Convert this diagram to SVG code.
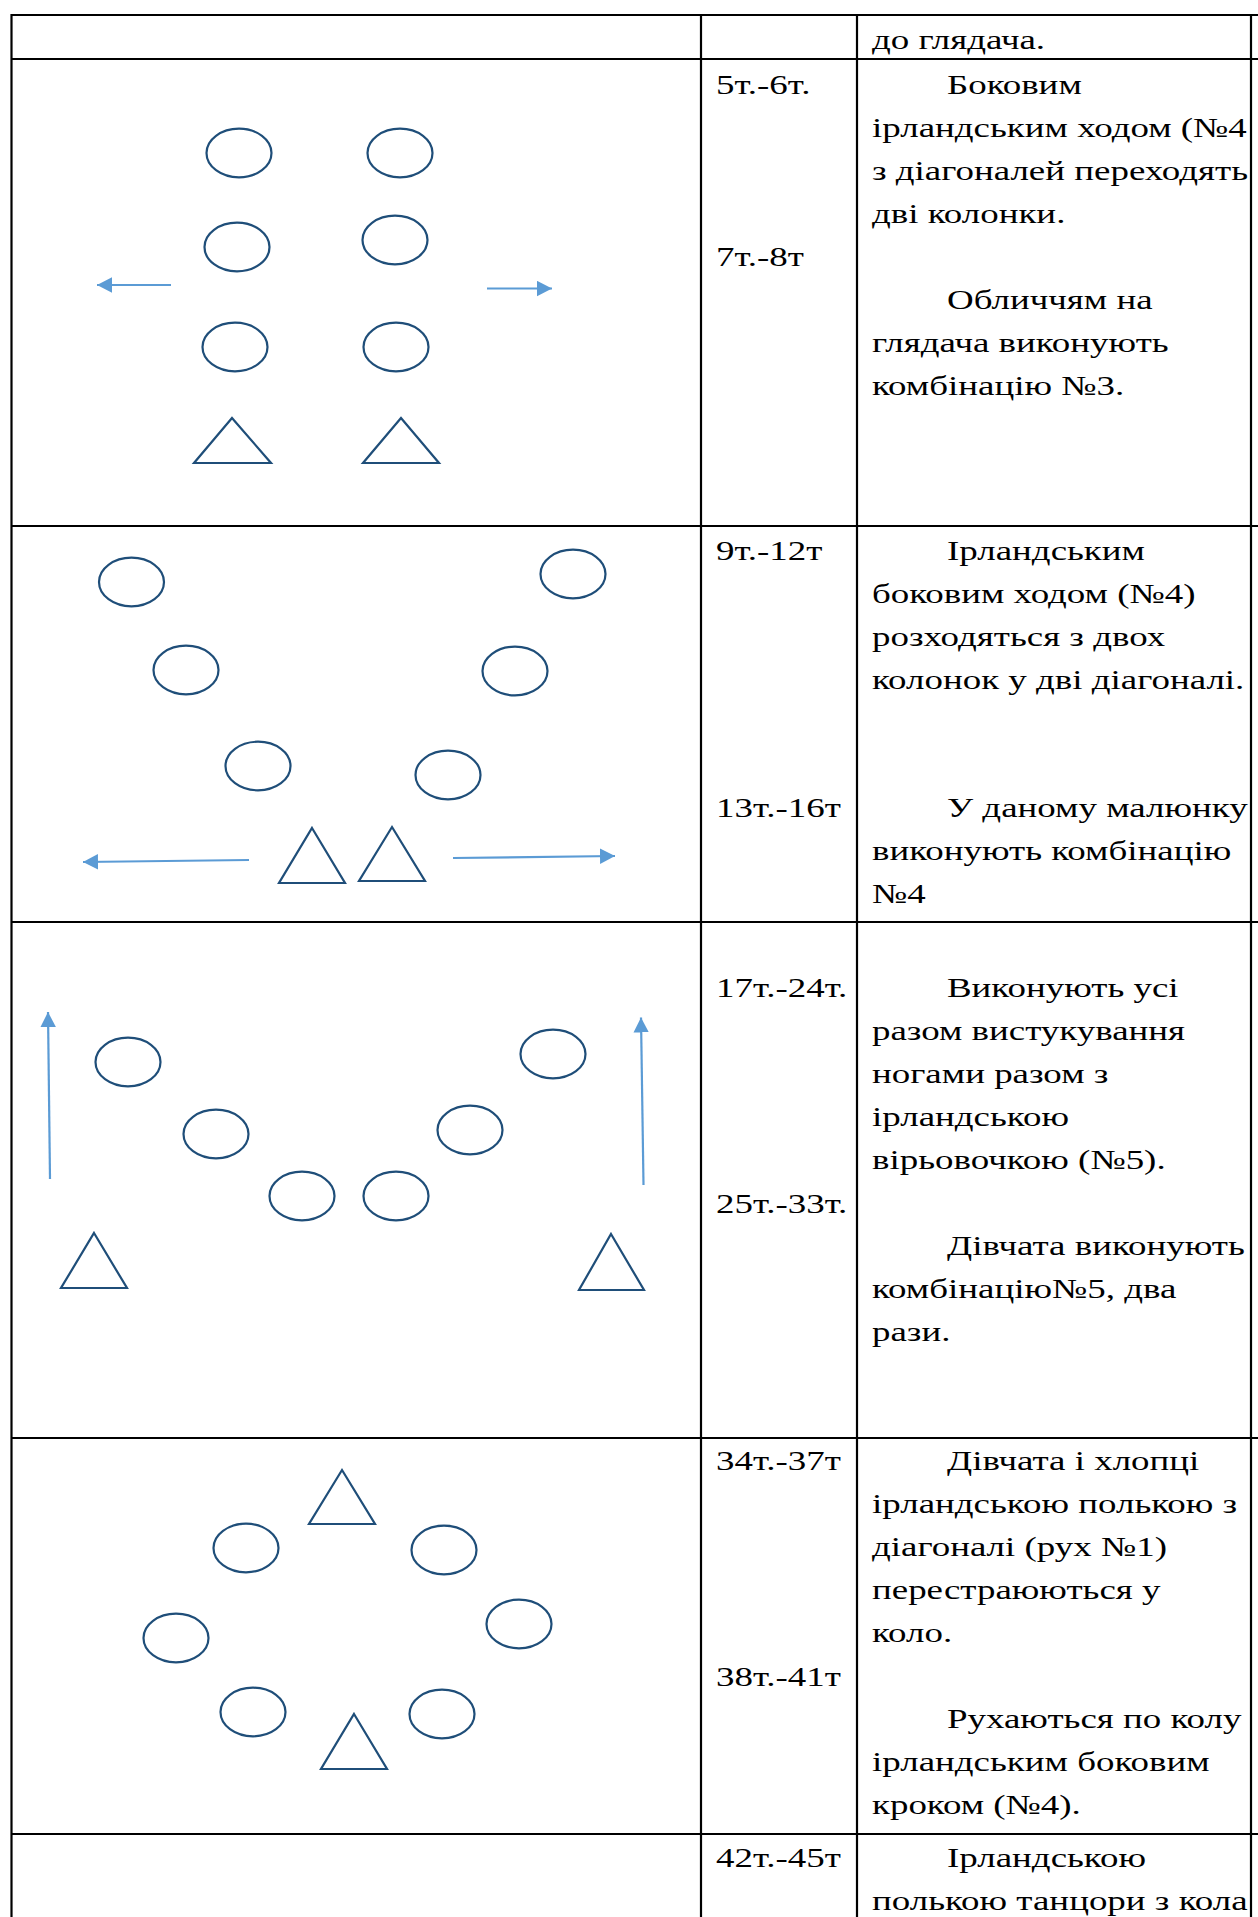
<svg xmlns="http://www.w3.org/2000/svg" width="1258" height="1917" viewBox="0 0 1258 1917">
<style>
.grid{stroke:#000;stroke-width:2.2;fill:none}
.d{fill:none;stroke:#1F4E79;stroke-width:2.2}
.a{fill:none;stroke:#5B9BD5;stroke-width:2.2}
.t{font-family:"Liberation Serif","Times New Roman",serif;font-size:28px;fill:#000}
</style>
<defs>
<marker id="ah" markerUnits="userSpaceOnUse" markerWidth="16" markerHeight="16" viewBox="0 0 16 16" refX="15" refY="8" orient="auto">
<path d="M0,0.3 L15,8 L0,15.7 z" fill="#5B9BD5"/>
</marker>
</defs>
<rect width="1258" height="1917" fill="#fff"/>
<g id="table" class="grid">
<line x1="11" y1="15" x2="1258" y2="15"/>
<line x1="11" y1="59" x2="1258" y2="59"/>
<line x1="11" y1="526" x2="1258" y2="526"/>
<line x1="11" y1="922" x2="1258" y2="922"/>
<line x1="11" y1="1438" x2="1258" y2="1438"/>
<line x1="11" y1="1834" x2="1258" y2="1834"/>
<line x1="11.5" y1="14" x2="11.5" y2="1917"/>
<line x1="701" y1="14" x2="701" y2="1917"/>
<line x1="857" y1="14" x2="857" y2="1917"/>
<line x1="1251" y1="14" x2="1251" y2="1917"/>
</g>
<g id="connectors">
<line class="a" x1="171" y1="285" x2="97" y2="285" marker-end="url(#ah)"/>
<line class="a" x1="487" y1="288.5" x2="552" y2="288.5" marker-end="url(#ah)"/>
<line class="a" x1="249" y1="860" x2="83" y2="862" marker-end="url(#ah)"/>
<line class="a" x1="453" y1="858" x2="615" y2="856" marker-end="url(#ah)"/>
<line class="a" x1="50" y1="1179" x2="48" y2="1012" marker-end="url(#ah)"/>
<line class="a" x1="643.5" y1="1185" x2="641" y2="1017.5" marker-end="url(#ah)"/>
</g>
<g id="fig1">
<g id="f1-c1"><ellipse class="d" cx="239" cy="153" rx="32.5" ry="24.3"/></g>
<g id="f1-c2"><ellipse class="d" cx="400" cy="153" rx="32.5" ry="24.3"/></g>
<g id="f1-c3"><ellipse class="d" cx="237" cy="247" rx="32.5" ry="24.3"/></g>
<g id="f1-c4"><ellipse class="d" cx="395" cy="240" rx="32.5" ry="24.3"/></g>
<g id="f1-c5"><ellipse class="d" cx="235" cy="347" rx="32.5" ry="24.3"/></g>
<g id="f1-c6"><ellipse class="d" cx="396" cy="347" rx="32.5" ry="24.3"/></g>
<g id="f1-t1"><polygon class="d" points="232,418 271,463 194,463"/></g>
<g id="f1-t2"><polygon class="d" points="401,418 439,463 363,463"/></g>
</g>
<g id="fig2">
<g id="f2-c1"><ellipse class="d" cx="131.5" cy="582" rx="32.5" ry="24.3"/></g>
<g id="f2-c2"><ellipse class="d" cx="573" cy="574" rx="32.5" ry="24.3"/></g>
<g id="f2-c3"><ellipse class="d" cx="186" cy="670" rx="32.5" ry="24.3"/></g>
<g id="f2-c4"><ellipse class="d" cx="515" cy="671" rx="32.5" ry="24.3"/></g>
<g id="f2-c5"><ellipse class="d" cx="258" cy="766" rx="32.5" ry="24.3"/></g>
<g id="f2-c6"><ellipse class="d" cx="448" cy="775" rx="32.5" ry="24.3"/></g>
<g id="f2-t1"><polygon class="d" points="312,828 345,883 279,883"/></g>
<g id="f2-t2"><polygon class="d" points="392,827 425,881 359,881"/></g>
</g>
<g id="fig3">
<g id="f3-c1"><ellipse class="d" cx="128" cy="1062" rx="32.5" ry="24.3"/></g>
<g id="f3-c2"><ellipse class="d" cx="553" cy="1054" rx="32.5" ry="24.3"/></g>
<g id="f3-c3"><ellipse class="d" cx="216" cy="1134" rx="32.5" ry="24.3"/></g>
<g id="f3-c4"><ellipse class="d" cx="470" cy="1130" rx="32.5" ry="24.3"/></g>
<g id="f3-c5"><ellipse class="d" cx="302" cy="1196" rx="32.5" ry="24.3"/></g>
<g id="f3-c6"><ellipse class="d" cx="396" cy="1196" rx="32.5" ry="24.3"/></g>
<g id="f3-t1"><polygon class="d" points="94,1233 127,1288 61,1288"/></g>
<g id="f3-t2"><polygon class="d" points="611,1234 644,1290 579,1290"/></g>
</g>
<g id="fig4">
<g id="f4-t1"><polygon class="d" points="342,1470 375,1524 309,1524"/></g>
<g id="f4-c1"><ellipse class="d" cx="246" cy="1548" rx="32.5" ry="24.3"/></g>
<g id="f4-c2"><ellipse class="d" cx="444" cy="1550" rx="32.5" ry="24.3"/></g>
<g id="f4-c3"><ellipse class="d" cx="176" cy="1638" rx="32.5" ry="24.3"/></g>
<g id="f4-c4"><ellipse class="d" cx="519" cy="1624" rx="32.5" ry="24.3"/></g>
<g id="f4-c5"><ellipse class="d" cx="253" cy="1712" rx="32.5" ry="24.3"/></g>
<g id="f4-c6"><ellipse class="d" cx="442" cy="1714" rx="32.5" ry="24.3"/></g>
<g id="f4-t2"><polygon class="d" points="354,1714 387,1769 321,1769"/></g>
</g>
<g id="texts" class="t" transform="scale(1.32 1)" xml:space="preserve">
<g id="row1"><text x="660.6" y="49">до глядача.</text></g>
<g id="row2">
<text x="542.4" y="94">5т.-6т.</text>
<text x="542.4" y="266">7т.-8т</text>
<text x="717.4" y="94">Боковим</text>
<text x="660.6" y="137">ірландським ходом (№4</text>
<text x="660.6" y="180">з діагоналей переходять</text>
<text x="660.6" y="223">дві колонки.</text>
<text x="717.4" y="309">Обличчям на</text>
<text x="660.6" y="352">глядача виконують</text>
<text x="660.6" y="395">комбінацію №3.</text>
</g>
<g id="row3">
<text x="542.4" y="560">9т.-12т</text>
<text x="542.4" y="817">13т.-16т</text>
<text x="717.4" y="560">Ірландським</text>
<text x="660.6" y="603">боковим ходом (№4)</text>
<text x="660.6" y="646">розходяться з двох</text>
<text x="660.6" y="689">колонок у дві діагоналі.</text>
<text x="717.4" y="817">У даному малюнку</text>
<text x="660.6" y="860">виконують комбінацію</text>
<text x="660.6" y="903">№4</text>
</g>
<g id="row4">
<text x="542.4" y="997.5">17т.-24т.</text>
<text x="542.4" y="1213">25т.-33т.</text>
<text x="717.4" y="997.5">Виконують усі</text>
<text x="660.6" y="1040.5">разом вистукування</text>
<text x="660.6" y="1083.5">ногами разом  з</text>
<text x="660.6" y="1126.5">ірландською</text>
<text x="660.6" y="1169.5">вірьовочкою (№5).</text>
<text x="717.4" y="1255.5">Дівчата виконують</text>
<text x="660.6" y="1298.5">комбінацію№5, два</text>
<text x="660.6" y="1341.5">рази.</text>
</g>
<g id="row5">
<text x="542.4" y="1470">34т.-37т</text>
<text x="542.4" y="1686">38т.-41т</text>
<text x="717.4" y="1470">Дівчата і хлопці</text>
<text x="660.6" y="1513">ірландською полькою з</text>
<text x="660.6" y="1556">діагоналі (рух №1)</text>
<text x="660.6" y="1599">перестраюються у</text>
<text x="660.6" y="1642">коло.</text>
<text x="717.4" y="1728">Рухаються по колу</text>
<text x="660.6" y="1771">ірландським боковим</text>
<text x="660.6" y="1814">кроком (№4).</text>
</g>
<g id="row6">
<text x="542.4" y="1867">42т.-45т</text>
<text x="717.4" y="1867">Ірландською</text>
<text x="660.6" y="1910">полькою танцори з кола</text>
</g>
</g>
</svg>
